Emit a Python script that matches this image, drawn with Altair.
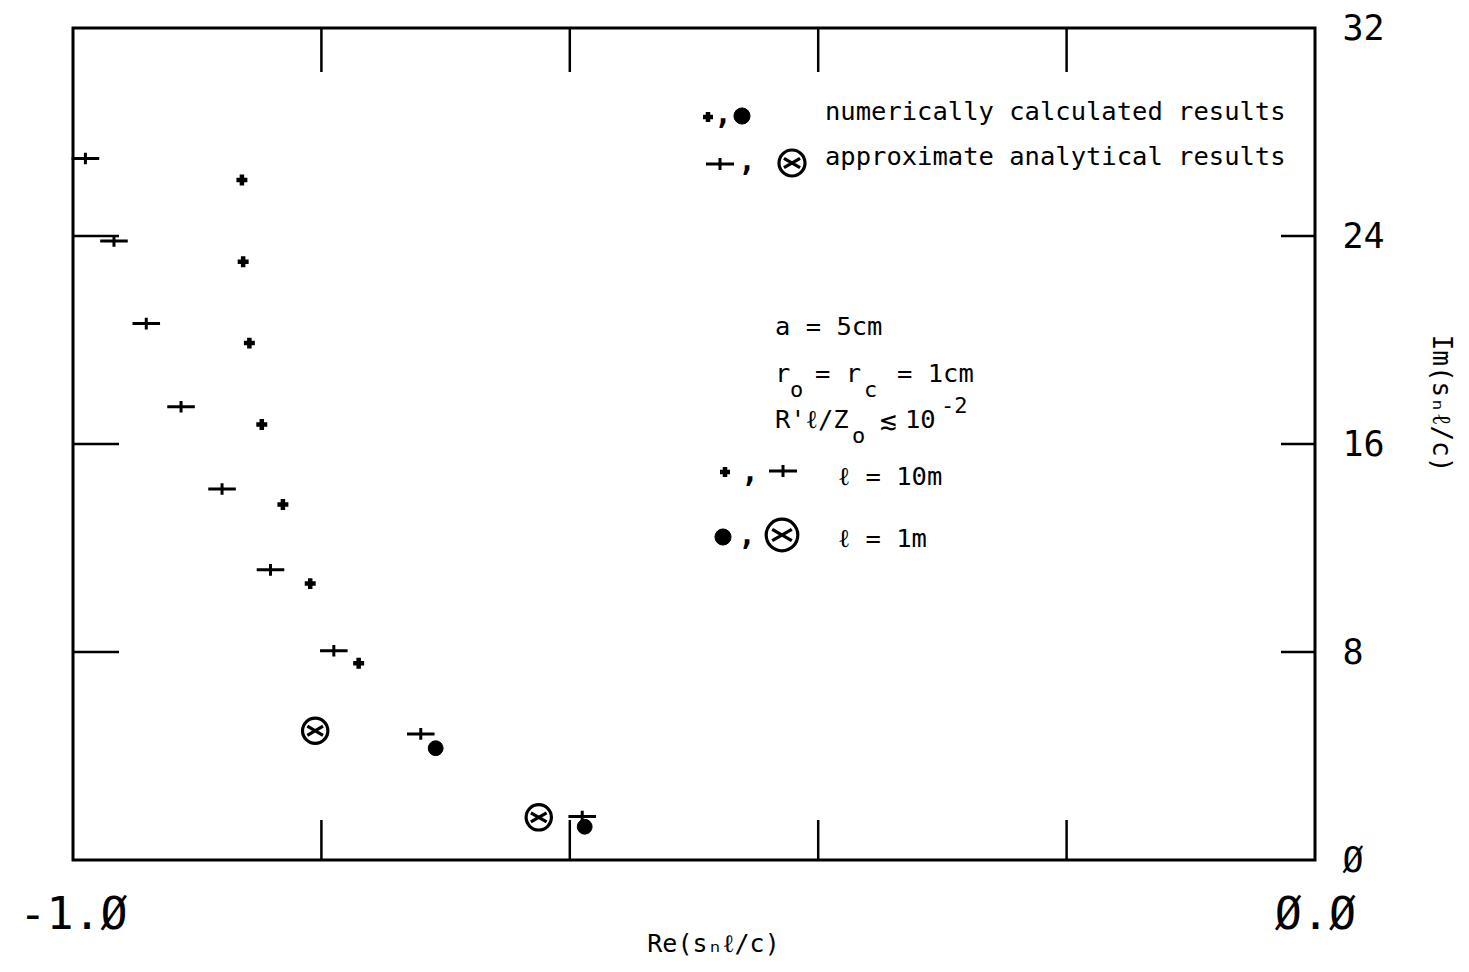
import altair as alt
import pandas as pd

# ---------------- data ----------------
# l = 10 m, numerically calculated (small +)
re_num_10 = [-0.864, -0.863, -0.858, -0.848, -0.831, -0.809, -0.770]
im_num_10 = [26.15, 23.01, 19.88, 16.75, 13.67, 10.63, 7.57]
# l = 10 m, approximate analytical (large +)
re_app_10 = [-0.990, -0.967, -0.941, -0.913, -0.880, -0.841, -0.790, -0.720, -0.590]
im_app_10 = [26.98, 23.81, 20.63, 17.43, 14.27, 11.16, 8.05, 4.85, 1.67]
# l = 1 m, numerically calculated (filled circle)
re_num_1 = [-0.708, -0.588]
im_num_1 = [4.30, 1.28]
# l = 1 m, approximate analytical (circled cross)
re_app_1 = [-0.805, -0.625]
im_app_1 = [4.97, 1.64]

x_minor_ticks = [-0.8, -0.6, -0.4, -0.2]
y_minor_ticks = [8, 16, 24]
x_label_values = [-1.0, 0.0]
x_label_texts = ["-1.Ø", "Ø.Ø"]
y_label_values = [0, 8, 16, 24, 32]
y_label_texts = ["Ø", "8", "16", "24", "32"]

x_title = "Re(sₙℓ/c)"
y_title = "Im(sₙℓ/c)"

# ---------------- layout ----------------
W, H = 1242, 832
PL, PT = 65, 20          # plot origin at (73, 28) on the page
FONT = "DejaVu Sans Mono"

def label_expr(values, texts):
    parts = [f"datum.value == {v} ? '{t}'" for v, t in zip(values, texts)]
    return " : ".join(parts) + " : ''"

xscale = alt.Scale(domain=[-1, 0], nice=False, zero=False)
yscale = alt.Scale(domain=[0, 32], nice=False, zero=False)

xaxis = alt.Axis(values=x_label_values, labelExpr=label_expr(x_label_values, x_label_texts),
                 grid=False, ticks=False, domain=False, labelFont=FONT, labelFontSize=45,
                 labelColor="black", labelBaseline="alphabetic", labelPadding=68,
                 labelAlign="center", labelFlush=False, labelOverlap=False, labelBound=False,
                 title=x_title, titleFont=FONT, titleFontSize=25, titleFontWeight="normal",
                 titleColor="black", titleX=640, titleY=83, titleAlign="center",
                 titleBaseline="middle")
yaxis = alt.Axis(orient="right", values=y_label_values,
                 labelExpr=label_expr(y_label_values, y_label_texts),
                 grid=False, ticks=False, domain=False, labelFont=FONT, labelFontSize=35,
                 labelColor="black", labelBaseline="middle", labelPadding=27,
                 labelAlign="left", labelFlush=False, labelOverlap=False, labelBound=False,
                 title=y_title, titleFont=FONT, titleFontSize=26, titleFontWeight="normal",
                 titleColor="black", titleAngle=90, titleX=125, titleY=375,
                 titleAlign="center", titleBaseline="middle")

X = alt.X("re:Q", scale=xscale, axis=xaxis)
Y = alt.Y("im:Q", scale=yscale, axis=yaxis)

SMALL_PLUS = "M-1,0H1M0,-1V1"
BIG_PLUS = "M-1,0H1M0,-0.42V0.42"
OTIMES = ("M1,0A1,1,0,1,1,-1,0A1,1,0,1,1,1,0"
          "M-0.62,-0.36L0.62,0.36M-0.62,0.36L0.62,-0.36")

def pts(xs, ys):
    return pd.DataFrame({"re": xs, "im": ys})

# inward frame ticks
xt = pd.DataFrame({"re": x_minor_ticks})
yt = pd.DataFrame({"im": y_minor_ticks})
rule_style = dict(color="black", strokeWidth=2.5)
bottom_ticks = alt.Chart(xt).mark_rule(**rule_style).encode(x=X, y=alt.value(H), y2=alt.value(H - 40))
top_ticks = alt.Chart(xt).mark_rule(**rule_style).encode(x=X, y=alt.value(0), y2=alt.value(44))
left_ticks = alt.Chart(yt).mark_rule(**rule_style).encode(y=Y, x=alt.value(0), x2=alt.value(46))
right_ticks = alt.Chart(yt).mark_rule(**rule_style).encode(y=Y, x=alt.value(W - 34), x2=alt.value(W))

num10 = alt.Chart(pts(re_num_10, im_num_10)).mark_point(
    shape=SMALL_PLUS, filled=False, stroke="black", strokeWidth=4.5, size=120, opacity=1
).encode(x=X, y=Y)
app10 = alt.Chart(pts(re_app_10, im_app_10)).mark_point(
    shape=BIG_PLUS, filled=False, stroke="black", strokeWidth=3, size=760, opacity=1
).encode(x=X, y=Y)
num1 = alt.Chart(pts(re_num_1, im_num_1)).mark_point(
    shape="circle", filled=True, fill="black", stroke="black", strokeWidth=1, size=220, opacity=1
).encode(x=X, y=Y)
app1 = alt.Chart(pts(re_app_1, im_app_1)).mark_point(
    shape=OTIMES, filled=False, stroke="black", strokeWidth=3.2, size=640, opacity=1
).encode(x=X, y=Y)

# ---------------- annotation (legend block, parameters) ----------------
OX, OY = 73, 28   # page position of plot origin

def sym(shape, px, py, size, sw, filled=False):
    if filled:
        mark = alt.Chart(pd.DataFrame({"k": [0]})).mark_point(
            shape=shape, filled=True, fill="black", stroke="black",
            strokeWidth=sw, size=size, opacity=1)
    else:
        mark = alt.Chart(pd.DataFrame({"k": [0]})).mark_point(
            shape=shape, filled=False, stroke="black", strokeWidth=sw, size=size, opacity=1)
    return mark.encode(x=alt.value(px - OX), y=alt.value(py - OY))

def txt(s, px, py, size=25.5, align="left", weight="normal"):
    return alt.Chart(pd.DataFrame({"t": [s]})).mark_text(
        font=FONT, fontSize=size, align=align, baseline="alphabetic", color="black",
        fontWeight=weight
    ).encode(x=alt.value(px - OX), y=alt.value(py - OY), text="t:N")

annot = [
    sym(SMALL_PLUS, 708, 117, 100, 4.5),
    txt(",", 723, 124, 30, "center", "bold"),
    sym("circle", 742, 116, 260, 1, filled=True),
    txt("numerically calculated results", 825, 120),
    sym(BIG_PLUS, 720, 164, 784, 3),
    txt(",", 747, 171, 30, "center", "bold"),
    sym(OTIMES, 792, 163, 676, 3.2),
    txt("approximate analytical results", 825, 165),
    txt("a = 5cm", 775, 335),
    txt("r", 775, 382),
    txt("o", 790, 397, 22),
    txt("= r", 815, 382),
    txt("c", 864, 397, 22),
    txt("= 1cm", 897, 382),
    txt("R'ℓ/Z", 775, 428),
    txt("o", 852, 443, 22),
    txt("≲", 880, 430, 28),
    txt("10", 905, 428),
    txt("-2", 941, 413, 22),
    sym(SMALL_PLUS, 725, 472, 100, 4.5),
    txt(",", 750, 482, 30, "center", "bold"),
    sym(BIG_PLUS, 783, 471, 784, 3),
    txt("ℓ = 10m", 838, 485),
    sym("circle", 723, 537, 260, 1, filled=True),
    txt(",", 747, 545, 30, "center", "bold"),
    sym(OTIMES, 782, 535, 1000, 3.2),
    txt("ℓ = 1m", 838, 547),
]

chart = alt.layer(
    bottom_ticks, top_ticks, left_ticks, right_ticks,
    app10, num10, app1, num1, *annot
).properties(
    width=W, height=H,
    autosize=alt.AutoSizeParams(type="none"),
    padding={"left": PL, "top": PT, "right": 140, "bottom": 100},
    background="white",
).configure_view(stroke="black", strokeWidth=3)

chart.save("out.html", embed_options={"renderer": "svg", "actions": False})
